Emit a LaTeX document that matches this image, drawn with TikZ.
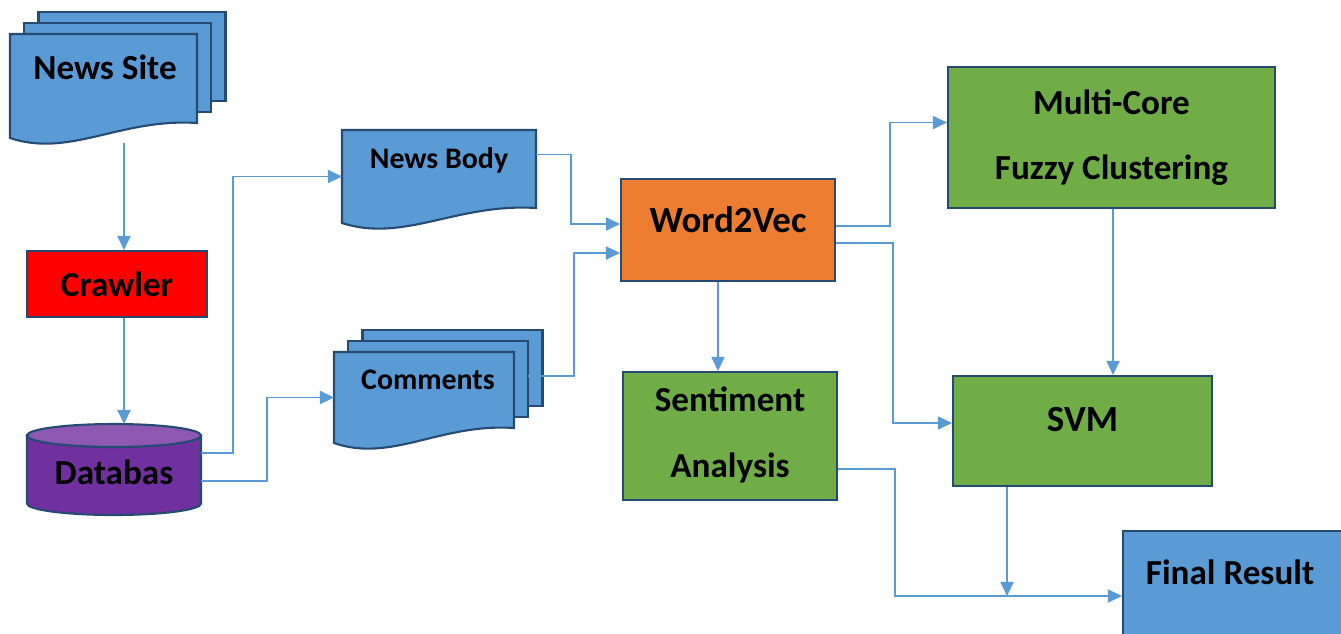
\documentclass[tikz,border=0pt]{standalone}
\usepackage{fontspec}
\setmainfont{Carlito}
\usetikzlibrary{arrows.meta, positioning, calc}
\definecolor{blue1}{RGB}{91,155,213}
\definecolor{edge1}{RGB}{38,75,115}
\definecolor{red1}{RGB}{255,0,0}
\definecolor{orange1}{RGB}{237,125,49}
\definecolor{green1}{RGB}{112,173,71}
\definecolor{purple1}{RGB}{112,48,160}
\definecolor{purple2}{RGB}{140,88,178}

% document outline with a wavy bottom, drawn round a named node
\newcommand{\docshape}[1]{%
  \draw[docframe] (#1.north west) -- (#1.north east) -- ([yshift=0.3cm]#1.south east)
    .. controls ($(#1.south west)!0.59!(#1.south east)+(0,0.4)$)
    and ($(#1.south west)!0.32!(#1.south east)+(0,-0.4)$) .. (#1.south west) -- cycle;}
% two sheets behind a document
\newcommand{\sheets}[1]{%
  \foreach \dx/\dy in {0.57/0.44, 0.28/0.22} {
    \draw[docframe] ([shift={(\dx,\dy)}]#1.north west) rectangle ([shift={(\dx,\dy+0.3)}]#1.south east);
  }}

\begin{document}
\begin{tikzpicture}[
    slot/.style={rectangle, inner sep=0pt, outer sep=0pt},
    box/.style={rectangle, draw=edge1, line width=1.2pt, inner sep=0pt},
    docframe/.style={draw=edge1, fill=blue1, line width=1.2pt},
    lbl/.style={font=\bfseries\fontsize{20}{24}\selectfont, inner sep=0pt},
    smalllbl/.style={font=\bfseries\fontsize{17}{20}\selectfont, inner sep=0pt},
    biglbl/.style={font=\bfseries\fontsize{21}{25}\selectfont, inner sep=0pt},
    myarrow/.style={-{Triangle[length=8pt,width=7.5pt]}, line width=0.8pt, blue1}
]
\useasboundingbox (0,0) rectangle (26.82,-12.66);
\clip (0,0) rectangle (26.82,-12.66);

% Source side
\node[slot, minimum width=3.74cm, minimum height=2.08cm] (ns) at (2.07,-1.72) {};
\sheets{ns}
\docshape{ns}
\node[lbl] (nstext) at ([xshift=0.03cm, yshift=0.38cm]ns.center) {News Site};

\node[box, lbl, fill=red1, minimum width=3.6cm, minimum height=1.32cm] (cr) at (2.34,-5.68) {Crawler};

\node[slot, minimum width=3.48cm, minimum height=1.82cm] (db) at (2.28,-9.39) {};
\draw[line width=1.2pt, draw=edge1, fill=purple1] ([yshift=-0.23cm]db.north west) -- ([yshift=0.23cm]db.south west)
    arc[start angle=180, end angle=360, x radius=1.74cm, y radius=0.23cm]
    -- ([yshift=-0.23cm]db.north east) -- cycle;
\draw[line width=1.2pt, draw=edge1, fill=purple2] ([yshift=-0.23cm]db.north) ellipse [x radius=1.74cm, y radius=0.23cm];
\node[lbl] (dbtext) at ([yshift=-0.06cm]db.center) {Databas};

% Split documents
\node[slot, minimum width=3.88cm, minimum height=1.86cm] (nb) at (8.78,-3.53) {};
\docshape{nb}
\node[smalllbl] (nbtext) at ([yshift=0.33cm]nb.center) {News Body};

\node[slot, minimum width=3.6cm, minimum height=1.82cm] (cm) at (8.48,-7.95) {};
\sheets{cm}
\docshape{cm}
\node[smalllbl] (cmtext) at ([xshift=0.08cm, yshift=0.35cm]cm.center) {Comments};

% Processing
\node[box, biglbl, fill=orange1, minimum width=4.28cm, minimum height=2.04cm, text depth=0.4cm] (w2v) at (14.56,-4.6) {Word2Vec};
\node[box, lbl, fill=green1, minimum width=4.28cm, minimum height=2.56cm, align=center, text depth=0.15cm] (sa) at (14.6,-8.72) {Sentiment\\[0.49cm] Analysis};
\node[box, lbl, fill=green1, minimum width=6.54cm, minimum height=2.82cm, align=center] (mc) at (22.23,-2.75) {Multi-Core\\[0.45cm] Fuzzy Clustering};
\node[box, biglbl, fill=green1, minimum width=5.18cm, minimum height=2.2cm, text depth=0.48cm] (svm) at (21.65,-8.62) {SVM};
\node[box, fill=blue1, minimum width=4.8cm, minimum height=2.6cm] (fr) at (24.86,-11.92) {};
\node[lbl] (frtext) at ([xshift=-0.26cm, yshift=0.48cm]fr.center) {Final Result};
\coordinate (merge) at ([xshift=-1.51cm]svm.south |- fr.west);

% Connectors
\draw[myarrow] ([xshift=0.14cm, yshift=-0.1cm]cr.north |- ns.south) -- ([xshift=0.14cm]cr.north);
\draw[myarrow] ([xshift=0.14cm]cr.south) -- ([xshift=0.14cm]cr.south |- db.north);
\draw[myarrow] ([yshift=0.33cm]db.east) -- ++(0.64,0) |- (nb.west);
\draw[myarrow] ([yshift=-0.23cm]db.east) -- ++(1.32,0) |- (cm.west);
\draw[myarrow] ([yshift=0.44cm]nb.east) -- ++(0.7,0) |- ([yshift=0.12cm]w2v.west);
\draw[myarrow] ([xshift=0.28cm, yshift=0.43cm]cm.east) -- ++(0.92,0) |- ([yshift=-0.46cm]w2v.west);
\draw[myarrow] ([yshift=0.08cm]w2v.east) -- ++(1.08,0) |- ([yshift=0.3cm]mc.west);
\draw[myarrow] ([yshift=-0.26cm]w2v.east) -- ++(1.14,0) |- ([yshift=0.16cm]svm.west);
\draw[myarrow] ([xshift=-0.2cm]w2v.south) -- ([xshift=-0.2cm]w2v.south |- sa.north);
\draw[myarrow] ([xshift=0.03cm]mc.south) -- ([xshift=0.03cm]mc.south |- svm.north);
\draw[myarrow] ([yshift=-0.66cm]sa.east) -- ++(1.14,0) |- (fr.west);
\draw[myarrow] ([xshift=-1.51cm]svm.south) -- (merge);

\end{tikzpicture}
\end{document}
